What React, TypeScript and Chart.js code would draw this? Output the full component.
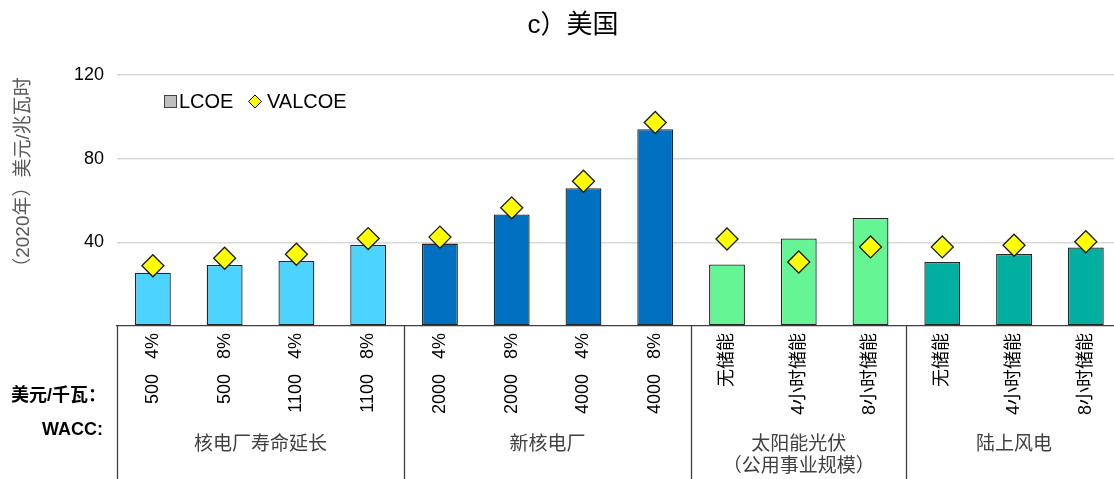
import { useEffect, useRef } from 'react';
import { Chart, registerables } from 'chart.js';

Chart.register(...registerables);

// ---- data ----
const capexLabels = ['500', '500', '1100', '1100', '2000', '2000', '4000', '4000'];
const waccLabels = ['4%', '8%', '4%', '8%', '4%', '8%', '4%', '8%'];
const storageLabels = ['无储能', '4小时储能', '8小时储能', '无储能', '4小时储能', '8小时储能'];
const groupNames = [['核电厂寿命延长'], ['新核电厂'], ['太阳能光伏', '（公用事业规模）'], ['陆上风电']];
const groupCounts = [4, 4, 3, 3];
const groupColors = ['#4DD3FF', '#0070C0', '#66F594', '#00AFA0'];
const lcoeValues = [25.5, 29.2, 31.1, 38.7, 39.4, 53.3, 65.9, 94.1, 29.4, 41.8, 51.6, 30.6, 34.4, 37.5];
const valcoeValues = [28.8, 32.4, 34.3, 41.8, 42.5, 56.5, 69.2, 97.3, 41.6, 30.6, 37.8, 37.8, 38.6, 40.3];
const yTicks = [40, 80, 120];

const categories = [
  ...capexLabels.map((c, i) => `${c}   ${waccLabels[i]}`),
  ...storageLabels,
];
const barColors: string[] = [];
groupCounts.forEach((n, g) => {
  for (let i = 0; i < n; i++) barColors.push(groupColors[g]);
});

const FONT = "'Liberation Sans', Arial, 'Noto Sans CJK SC', sans-serif";

const decor = {
  id: 'decor',
  afterDraw(chart: any) {
    const { ctx, chartArea, scales } = chart;
    const x = scales.x;
    const step = x.getPixelForValue(1) - x.getPixelForValue(0);
    ctx.save();
    // group dividers
    ctx.strokeStyle = '#404040';
    ctx.lineWidth = 1.3;
    const bounds = [0];
    let acc = 0;
    groupCounts.forEach((c) => {
      acc += c;
      bounds.push(acc);
    });
    bounds.forEach((b) => {
      const px = Math.round(x.getPixelForValue(b) - step / 2) + 0.5;
      ctx.beginPath();
      ctx.moveTo(px, chartArea.bottom);
      ctx.lineTo(px, chart.height);
      ctx.stroke();
    });
    // group labels
    ctx.fillStyle = '#404040';
    ctx.font = `19px ${FONT}`;
    ctx.textAlign = 'center';
    ctx.textBaseline = 'middle';
    for (let g = 0; g < groupCounts.length; g++) {
      const l = x.getPixelForValue(bounds[g]) - step / 2;
      const r = x.getPixelForValue(bounds[g + 1]) - step / 2;
      groupNames[g].forEach((line, k) => {
        ctx.fillText(line, (l + r) / 2, 445 + k * 22);
      });
    }
    // left labels
    ctx.fillStyle = '#000';
    ctx.font = `bold 18px ${FONT}`;
    ctx.textAlign = 'right';
    ctx.fillText('美元/千瓦：', 106, 396);
    ctx.fillText('WACC:', 103, 430);
    // title
    ctx.font = `26px ${FONT}`;
    ctx.textAlign = 'center';
    ctx.fillText('c）美国', 573, 26);
    // y title
    ctx.save();
    ctx.translate(24, 177);
    ctx.rotate(-Math.PI / 2);
    ctx.fillStyle = '#595959';
    ctx.font = `19px ${FONT}`;
    ctx.fillText('（2020年）美元/兆瓦时', 0, 0);
    ctx.restore();
    // legend
    ctx.fillStyle = '#BFBFBF';
    ctx.strokeStyle = '#404040';
    ctx.lineWidth = 1;
    ctx.fillRect(164, 95, 12, 12);
    ctx.strokeRect(164.5, 95.5, 12, 12);
    ctx.fillStyle = '#000';
    ctx.font = `20px ${FONT}`;
    ctx.textAlign = 'left';
    ctx.fillText('LCOE', 179, 102);
    ctx.beginPath();
    ctx.moveTo(255, 95);
    ctx.lineTo(261.5, 101.5);
    ctx.lineTo(255, 108);
    ctx.lineTo(248.5, 101.5);
    ctx.closePath();
    ctx.fillStyle = '#FFFF00';
    ctx.fill();
    ctx.strokeStyle = '#000';
    ctx.stroke();
    ctx.fillStyle = '#000';
    ctx.fillText('VALCOE', 267, 102);
    ctx.restore();
  },
};

export default function App() {
  const ref = useRef<HTMLCanvasElement>(null);
  useEffect(() => {
    const chart = new Chart(ref.current!, {
      type: 'bar',
      data: {
        labels: categories,
        datasets: [
          {
            type: 'bar',
            label: 'LCOE',
            data: lcoeValues,
            backgroundColor: barColors,
            borderColor: '#262626',
            borderWidth: 1.3,
            borderSkipped: false,
            barPercentage: 0.5,
            categoryPercentage: 1,
            order: 2,
          },
          {
            type: 'line',
            label: 'VALCOE',
            data: valcoeValues,
            showLine: false,
            pointStyle: 'rectRot',
            pointRadius: 11,
            pointHoverRadius: 11,
            pointBackgroundColor: '#FFFF00',
            pointBorderColor: '#1a1a1a',
            pointBorderWidth: 1.3,
            order: 1,
          } as any,
        ],
      },
      options: {
        responsive: false,
        animation: false,
        layout: { padding: { left: 0, right: 0, top: 75, bottom: 0 } },
        plugins: { legend: { display: false }, tooltip: { enabled: false } },
        scales: {
          x: {
            grid: { display: false, drawTicks: false },
            border: { display: true, color: '#404040', width: 1.3 },
            ticks: {
              autoSkip: false,
              maxRotation: 90,
              minRotation: 90,
              padding: 7,
              color: '#000',
              font: { size: 18, family: FONT },
            },
            afterFit: (s: any) => {
              s.height = 153;
            },
          },
          y: {
            min: 0,
            max: 120,
            afterBuildTicks: (s: any) => {
              s.ticks = [0, ...yTicks].map((v) => ({ value: v }));
            },
            grid: {
              drawTicks: false,
              color: (c: any) => (c.tick && c.tick.value === 0 ? 'rgba(0,0,0,0)' : '#D9D9D9'),
              lineWidth: 1.5,
            },
            border: { display: false },
            ticks: {
              padding: 13,
              color: '#000',
              font: { size: 18, family: FONT },
              callback: (v: any) => (v === 0 ? '' : String(v)),
            },
            afterFit: (s: any) => {
              s.width = 117;
            },
          },
        },
      },
      plugins: [decor],
    });
    return () => chart.destroy();
  }, []);
  return (
    <div
      style={{
        position: 'fixed',
        left: 0,
        top: 0,
        width: 1114,
        height: 479,
        overflow: 'hidden',
        background: '#fff',
      }}
    >
      <canvas ref={ref} width={1134} height={479} style={{ display: 'block', width: 1134, height: 479 }} />
    </div>
  );
}
